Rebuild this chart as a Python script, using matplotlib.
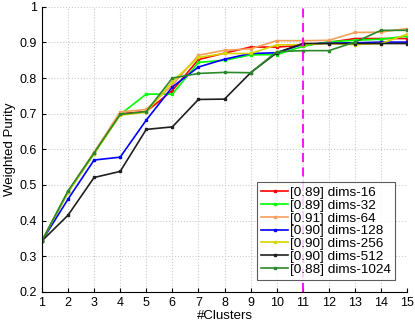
import matplotlib.pyplot as plt
import numpy as np

plt.rcParams["font.family"] = ["Liberation Sans", "DejaVu Sans"]

clusters = np.arange(1, 16)

dims16 = [0.343, 0.480, 0.590, 0.700, 0.706, 0.765, 0.852, 0.870, 0.887, 0.887, 0.892, 0.900, 0.911, 0.911, 0.911]
dims32 = [0.343, 0.480, 0.588, 0.698, 0.755, 0.755, 0.844, 0.850, 0.865, 0.866, 0.889, 0.902, 0.906, 0.909, 0.918]
dims64 = [0.343, 0.482, 0.592, 0.705, 0.712, 0.780, 0.864, 0.878, 0.882, 0.905, 0.905, 0.906, 0.928, 0.929, 0.939]
dims128 = [0.343, 0.460, 0.570, 0.578, 0.682, 0.775, 0.831, 0.853, 0.869, 0.871, 0.895, 0.898, 0.899, 0.901, 0.901]
dims256 = [0.343, 0.480, 0.588, 0.696, 0.704, 0.790, 0.858, 0.869, 0.869, 0.893, 0.894, 0.897, 0.894, 0.897, 0.923]
dims512 = [0.343, 0.415, 0.521, 0.538, 0.656, 0.663, 0.740, 0.741, 0.815, 0.871, 0.897, 0.897, 0.897, 0.897, 0.897]
dims1024 = [0.343, 0.483, 0.590, 0.698, 0.706, 0.800, 0.813, 0.816, 0.815, 0.874, 0.877, 0.877, 0.901, 0.934, 0.934]

series = [dims16, dims32, dims64, dims128, dims256, dims512, dims1024]
labels = ["[0.89] dims-16", "[0.89] dims-32", "[0.91] dims-64", "[0.90] dims-128",
          "[0.90] dims-256", "[0.90] dims-512", "[0.88] dims-1024"]
colors = ["#ff0000", "#00ff00", "#f5a05a", "#0000ff", "#d6d600", "#202020", "#2a8a2a"]

fig = plt.figure(figsize=(4.15, 3.25), dpi=100)
ax = fig.add_axes([0.101, 0.102, 0.880, 0.877])

for vals, lab, col in zip(series, labels, colors):
    ax.plot(clusters, vals, color=col, label=lab, marker="s", markersize=2.0, linewidth=1.2)

ax.axvline(11, color="#ff00ff", linestyle=(0, (5, 3)), linewidth=1.3)

ax.set_xlim(1, 15)
ax.set_ylim(0.2, 1.0)
ax.set_xticks(np.arange(1, 16))
ax.set_yticks(np.arange(0.2, 1.01, 0.1))
ax.set_yticklabels(["0.2", "0.3", "0.4", "0.5", "0.6", "0.7", "0.8", "0.9", "1"])
ax.grid(True, linestyle=":", color="#cccccc", linewidth=0.8)
ax.spines["top"].set_visible(False)
ax.spines["right"].set_visible(False)
ax.tick_params(direction="in", labelsize=9, length=3)
ax.set_xlabel("#Clusters", fontsize=9.5, labelpad=1)
ax.set_ylabel("Weighted Purity", fontsize=9.5, labelpad=3)

leg = ax.legend(loc="upper left", fontsize=9.7, handlelength=2.0, borderpad=0.3,
                labelspacing=0.03, handletextpad=0.12, fancybox=False,
                borderaxespad=0, bbox_to_anchor=(0.59, 0.384))
leg.get_frame().set_edgecolor("#333333")
leg.get_frame().set_linewidth(0.8)

fig.savefig("out.png", dpi=100)
